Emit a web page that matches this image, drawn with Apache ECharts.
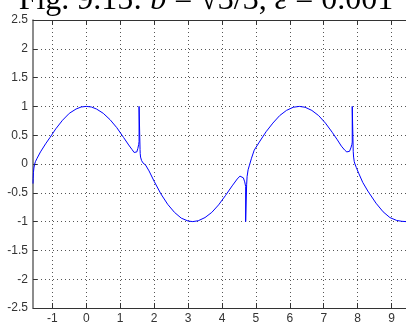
<!DOCTYPE html>
<html>
<head>
<meta charset="utf-8">
<script src="https://cdn.jsdelivr.net/npm/echarts@6/dist/echarts.min.js"></script>
<style>
  html, body { margin: 0; padding: 0; background: #fff; }
  #chart { width: 406px; height: 325px; }
</style>
</head>
<body>
<div id="chart"></div>
<script>
// Sampled solution curve (x, y), including the thin spikes at the odd multiples of pi/2
const curveX = [
  -1.5708, -1.566, -1.558, -1.545, -1.525, -1.50, -1.45, -1.35, -1.2, -1.07,
  -0.9, -0.7, -0.5, -0.3, -0.15, 0, 0.15, 0.3, 0.5, 0.7,
  0.9, 1.1, 1.25, 1.35, 1.41, 1.45, 1.49, 1.52, 1.545, 1.556,
  1.556, 1.585, 1.585, 1.59, 1.60, 1.63, 1.67, 1.75, 1.85, 2.0, 2.2,
  2.4, 2.6, 2.8, 3.0, 3.14, 3.3, 3.5, 3.7, 3.9, 4.1,
  4.3, 4.45, 4.53, 4.58, 4.63, 4.67, 4.698,
  4.698, 4.727, 4.727, 4.74, 4.77, 4.81, 4.87, 4.95, 5.1, 5.3, 5.5, 5.7, 5.9,
  6.1, 6.28, 6.45, 6.65, 6.85, 7.05, 7.25, 7.4, 7.52, 7.62,
  7.68, 7.72, 7.76, 7.80, 7.83, 7.840,
  7.840, 7.869, 7.869, 7.88, 7.90,
  7.92, 7.96, 8.03, 8.15, 8.3, 8.54, 8.75, 8.95, 9.15, 9.3, 9.4248
];
const curveY = [
  -0.34, -0.25, -0.15, -0.07, -0.01, 0.04, 0.10, 0.21, 0.35, 0.46,
  0.61, 0.76, 0.88, 0.955, 0.99, 1.0, 0.99, 0.955, 0.88, 0.77,
  0.63, 0.46, 0.33, 0.25, 0.20, 0.19, 0.21, 0.27, 0.34, 0.39,
  1.0, 1.0, 0.25, 0.18, 0.12, 0.06, 0.02, -0.02, -0.12, -0.30, -0.52,
  -0.70, -0.84, -0.94, -0.99, -1.0, -0.985, -0.93, -0.84, -0.71, -0.55,
  -0.38, -0.26, -0.21, -0.20, -0.24, -0.31, -0.39,
  -1.0, -1.0, -0.36, -0.22, -0.10, -0.02, 0.10, 0.24, 0.38, 0.56, 0.71, 0.84, 0.93,
  0.985, 1.0, 0.985, 0.93, 0.84, 0.71, 0.55, 0.42, 0.31, 0.24,
  0.21, 0.20, 0.22, 0.28, 0.34, 0.38,
  1.0, 1.0, 0.22, 0.12, 0.04,
  0.0, -0.06, -0.16, -0.32, -0.47, -0.68, -0.83, -0.93, -0.98, -0.995, -1.0
];

// Axis ranges and tick positions
const xRange = [-Math.PI / 2, 3 * Math.PI];
const xTicks = [-1, 0, 1, 2, 3, 4, 5, 6, 7, 8, 9];
const yRange = [-2.5, 2.5];
const yStep = 0.5;

const points = curveX.map((x, i) => [x, curveY[i]]);

const tickFont = { fontFamily: '"Liberation Sans", Arial, sans-serif', fontSize: 12, color: '#333' };
const gridDots = { color: '#555', width: 1, type: [1, 3] };

const chart = echarts.init(document.getElementById('chart'), null, { renderer: 'canvas' });
chart.setOption({
  animation: false,
  backgroundColor: '#fff',
  grid: { left: 33, top: 20, bottom: 10, width: 378, containLabel: false },
  graphic: [{
    type: 'text',
    x: 206,
    y: 1,
    style: {
      text: '{r|Fig. 9.15: }{i|b}{r| = √3/3, }{i|ε}{r| = 0.001}',
      align: 'center',
      verticalAlign: 'middle',
      rich: {
        r: { fontFamily: '"Liberation Serif", "DejaVu Serif", serif', fontSize: 32, fill: '#000' },
        i: { fontFamily: '"Liberation Serif", "DejaVu Serif", serif', fontSize: 32, fontStyle: 'italic', fill: '#000' }
      }
    }
  }],
  xAxis: [{
    type: 'value',
    position: 'bottom',
    min: xRange[0],
    max: xRange[1],
    axisLine: { show: true, onZero: false, lineStyle: { color: '#333', width: 1 } },
    axisTick: { show: true, inside: true, length: 5, customValues: xTicks, lineStyle: { color: '#333' } },
    axisLabel: Object.assign({ customValues: xTicks, margin: 5, formatter: v => String(v) }, tickFont),
    splitLine: { show: true, lineStyle: gridDots }
  }, {
    type: 'value',
    position: 'top',
    min: xRange[0],
    max: xRange[1],
    axisLine: { show: true, onZero: false, lineStyle: { color: '#333', width: 1 } },
    axisTick: { show: true, inside: true, length: 5, customValues: xTicks, lineStyle: { color: '#333' } },
    axisLabel: { show: false },
    splitLine: { show: false }
  }],
  yAxis: {
    type: 'value',
    min: yRange[0],
    max: yRange[1],
    interval: yStep,
    axisLine: { show: true, onZero: false, lineStyle: { color: '#666', width: 1.5 } },
    axisTick: { show: true, inside: true, length: 4, lineStyle: { color: '#333' } },
    axisLabel: Object.assign({ margin: 5 }, tickFont),
    splitLine: { show: true, lineStyle: gridDots }
  },
  series: [{
    type: 'line',
    data: points,
    showSymbol: false,
    symbol: 'none',
    lineStyle: { color: '#0000ff', width: 1 },
    xAxisIndex: 0
  }]
});
</script>
</body>
</html>
